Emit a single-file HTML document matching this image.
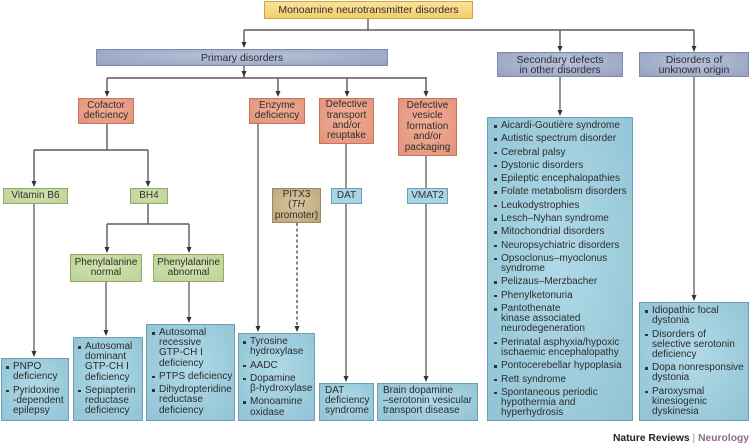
<!DOCTYPE html>
<html><head><meta charset="utf-8">
<style>
html,body{margin:0;padding:0;background:#fff;}
body{width:751px;height:448px;position:relative;overflow:hidden;font-family:"Liberation Sans",Arial,sans-serif;color:#2e2e2e;}
svg{position:absolute;left:0;top:0;}
.bx{position:absolute;box-sizing:border-box;border:1px solid #888;display:flex;align-items:center;justify-content:center;text-align:center;font-size:10px;line-height:10.4px;white-space:nowrap;}
.bx > div{text-align:center;}
.yel{background:linear-gradient(#fbe29a,#f4cc6c);border-color:#d2a446;font-size:10.5px;}
.gry{background:radial-gradient(ellipse at 50% 40%,#b9c3da,#95a2c0);border-color:#7c8aad;font-size:10.5px;line-height:10px;}
.sal{background:radial-gradient(ellipse at 50% 45%,#f2ae96,#e2937a);border-color:#c8745e;}
.grn{background:radial-gradient(ellipse at 50% 45%,#d3e4b0,#bcd296);border-color:#93ab6c;}
.tan{background:radial-gradient(ellipse at 50% 45%,#d8c7a2,#bba57c);border-color:#9e8862;color:#3a3022;}
.lb{background:#a9d6e4;border-color:#6e9fb5;}
.lst{position:absolute;box-sizing:border-box;border:1px solid #709fb4;background:radial-gradient(ellipse at 50% 45%,#b1dae7,#90c3d5);font-size:10px;line-height:10.2px;white-space:nowrap;color:#2c2c2c;padding-top:3px;}
.it{position:relative;padding-left:7px;margin-bottom:3.1px;}
.it::before{content:"";position:absolute;left:0;top:4px;width:2.5px;height:2.5px;background:#333;}
.foot{position:absolute;right:2px;top:433px;font-size:10.3px;font-weight:bold;white-space:nowrap;color:#222;}
</style></head><body>
<svg width="751" height="448" viewBox="0 0 751 448">
<g stroke="#5a5a5a" stroke-width="1.4" fill="none">
<path d="M368 18V30M244 30H694M244 30V44M560 30V48M694 30V48"/>
<path d="M244 66V78"/>
<path d="M107 78H427M107 78V93M278 78V93M347 78V93M426 78V93"/>
<path d="M107 124V150M34 150H148M34 150V183M148 150V183"/>
<path d="M148 204V224M107 224H189M107 224V249M189 224V249"/>
</g>
<g stroke="#7c7c7c" stroke-width="1.6" fill="none">
<path d="M34 204V352M106 282V331M189 282V318M258 124V327M346 144V377M426 156V377M560 77V111M694 77V296"/>
</g>
<path d="M297 223V327" stroke="#444" stroke-width="1.3" stroke-dasharray="3,2.5" fill="none"/>
<g fill="#333">
<polygon points="241.5,42 246.5,42 244,48"/>
<polygon points="557.5,46 562.5,46 560,52"/>
<polygon points="691.5,46 696.5,46 694,52"/>
<polygon points="241.5,71 246.5,71 244,77"/>
<polygon points="104.5,91 109.5,91 107,97"/>
<polygon points="275.5,91 280.5,91 278,97"/>
<polygon points="344.5,91 349.5,91 347,97"/>
<polygon points="423.5,91 428.5,91 426,97"/>
<polygon points="31.5,181 36.5,181 34,187"/>
<polygon points="145.5,181 150.5,181 148,187"/>
<polygon points="104.5,247 109.5,247 107,253"/>
<polygon points="186.5,247 191.5,247 189,253"/>
<polygon points="31.5,351 36.5,351 34,357"/>
<polygon points="103.5,330 108.5,330 106,336"/>
<polygon points="186.5,317 191.5,317 189,323"/>
<polygon points="255.5,326 260.5,326 258,332"/>
<polygon points="294.5,326 299.5,326 297,332"/>
<polygon points="343.5,376 348.5,376 346,382"/>
<polygon points="423.5,376 428.5,376 426,382"/>
<polygon points="557.5,110 562.5,110 560,116"/>
<polygon points="691.5,295 696.5,295 694,301"/>
</g>
</svg>

<div class="bx yel" style="left:264px;top:1px;width:209px;height:18px;"><div>Monoamine neurotransmitter disorders</div></div>
<div class="bx gry" style="left:96px;top:49px;width:292px;height:17px;"><div>Primary disorders</div></div>
<div class="bx gry" style="left:497px;top:52px;width:126px;height:25px;"><div>Secondary defects<br>in other disorders</div></div>
<div class="bx gry" style="left:639px;top:52px;width:110px;height:25px;"><div>Disorders of<br>unknown origin</div></div>

<div class="bx sal" style="left:78px;top:98px;width:56px;height:26px;"><div>Cofactor<br>deficiency</div></div>
<div class="bx sal" style="left:249px;top:98px;width:56px;height:26px;"><div>Enzyme<br>deficiency</div></div>
<div class="bx sal" style="left:319px;top:98px;width:55px;height:46px;"><div>Defective<br>transport<br>and/or<br>reuptake</div></div>
<div class="bx sal" style="left:398px;top:98px;width:59px;height:58px;"><div>Defective<br>vesicle<br>formation<br>and/or<br>packaging</div></div>

<div class="bx grn" style="left:3px;top:188px;width:65px;height:16px;"><div>Vitamin B6</div></div>
<div class="bx grn" style="left:130px;top:188px;width:38px;height:16px;"><div>BH4</div></div>
<div class="bx grn" style="left:70px;top:254px;width:72px;height:28px;"><div>Phenylalanine<br>normal</div></div>
<div class="bx grn" style="left:153px;top:254px;width:71px;height:28px;"><div>Phenylalanine<br>abnormal</div></div>

<div class="bx tan" style="left:272px;top:188px;width:49px;height:35px;"><div>PITX3<br>(<i>TH</i><br>promoter)</div></div>
<div class="bx lb" style="left:331px;top:188px;width:31px;height:16px;"><div>DAT</div></div>
<div class="bx lb" style="left:407px;top:188px;width:41px;height:16px;"><div>VMAT2</div></div>

<div class="lst" style="left:1px;top:358px;width:68px;height:63px;padding-left:4px;">
<div class="it">PNPO<br>deficiency</div>
<div class="it">Pyridoxine<br>-dependent<br>epilepsy</div>
</div>

<div class="lst" style="left:73px;top:337px;width:70px;height:84px;padding-left:4px;padding-top:4px;">
<div class="it">Autosomal<br>dominant<br>GTP-CH I<br>deficiency</div>
<div class="it">Sepiapterin<br>reductase<br>deficiency</div>
</div>

<div class="lst" style="left:146px;top:324px;width:89px;height:97px;padding-left:5px;">
<div class="it">Autosomal<br>recessive<br>GTP-CH I<br>deficiency</div>
<div class="it">PTPS deficiency</div>
<div class="it">Dihydropteridine<br>reductase<br>deficiency</div>
</div>

<div class="lst" style="left:238px;top:333px;width:77px;height:88px;padding-left:4px;">
<div class="it">Tyrosine<br>hydroxylase</div>
<div class="it">AADC</div>
<div class="it">Dopamine<br>β-hydroxylase</div>
<div class="it">Monoamine<br>oxidase</div>
</div>

<div class="lst" style="left:319px;top:383px;width:55px;height:38px;padding-left:5px;padding-top:2px;">DAT<br>deficiency<br>syndrome</div>
<div class="lst" style="left:377px;top:383px;width:101px;height:38px;padding-left:5px;padding-top:2px;">Brain dopamine<br>–serotonin vesicular<br>transport disease</div>

<div class="lst" style="left:487px;top:117px;width:146px;height:304px;padding-left:6px;">
<div class="it">Aicardi-Goutière syndrome</div>
<div class="it">Autistic spectrum disorder</div>
<div class="it">Cerebral palsy</div>
<div class="it">Dystonic disorders</div>
<div class="it">Epileptic encephalopathies</div>
<div class="it">Folate metabolism disorders</div>
<div class="it">Leukodystrophies</div>
<div class="it">Lesch–Nyhan syndrome</div>
<div class="it">Mitochondrial disorders</div>
<div class="it">Neuropsychiatric disorders</div>
<div class="it">Opsoclonus–myoclonus<br>syndrome</div>
<div class="it">Pelizaus–Merzbacher</div>
<div class="it">Phenylketonuria</div>
<div class="it">Pantothenate<br>kinase associated<br>neurodegeneration</div>
<div class="it">Perinatal asphyxia/hypoxic<br>ischaemic encephalopathy</div>
<div class="it">Pontocerebellar hypoplasia</div>
<div class="it">Rett syndrome</div>
<div class="it">Spontaneous periodic<br>hypothermia and<br>hyperhydrosis</div>
</div>

<div class="lst" style="left:639px;top:302px;width:110px;height:119px;padding-left:5px;">
<div class="it">Idiopathic focal<br>dystonia</div>
<div class="it">Disorders of<br>selective serotonin<br>deficiency</div>
<div class="it">Dopa nonresponsive<br>dystonia</div>
<div class="it">Paroxysmal<br>kinesiogenic<br>dyskinesia</div>
</div>

<div class="foot">Nature Reviews <span style="color:#9a9a9a;font-weight:normal;">|</span> <span style="color:#8c6b8c;">Neurology</span></div>
</body></html>
